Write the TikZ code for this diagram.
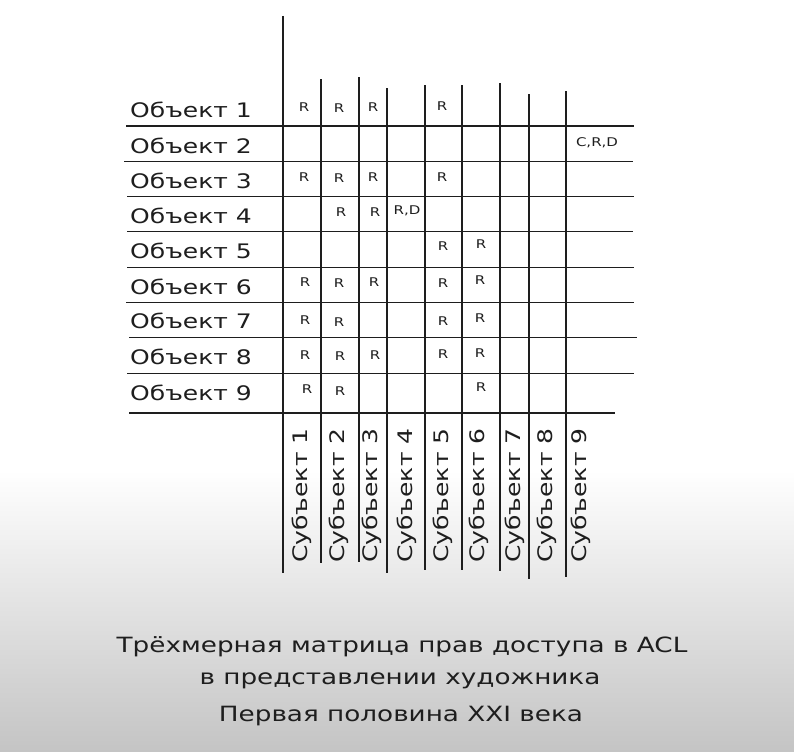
\documentclass[tikz,border=0pt]{standalone}
\usepackage{fontspec}
\newfontfamily\hand[FakeStretch=1.25]{DejaVu Sans}
\definecolor{ink}{HTML}{1E1E1E}
\definecolor{bgg}{HTML}{C4C4C4}
\begin{document}
\begin{tikzpicture}[x=1bp,y=-1bp,
  gl/.style={line width=1.3bp, draw=ink},
  lab/.style={font=\hand\fontsize{20bp}{24bp}\selectfont, text=ink, inner sep=0pt},
  sub/.style={lab, rotate=90, anchor=west},
  cell/.style={font=\hand\fontsize{12bp}{14bp}\selectfont, text=ink, inner sep=0pt},
  capt/.style={font=\hand\fontsize{21bp}{25bp}\selectfont, text=ink, inner sep=0pt}]
\fill[white] (0,0) rectangle (794,752);
\shade[top color=white, bottom color=bgg] (0,470) rectangle (794,752);
\useasboundingbox (0,0) rectangle (794,752);
% horizontal grid lines
\foreach \y/\a/\b in {126/126/634, 161.7/124/633, 196.7/127/634, 231.7/127/633,
  267.3/127/634, 302.7/126/634, 337.3/129/637, 373.3/127/634, 413/129/615}
  \draw[gl] (\a,\y) -- (\b,\y);
% vertical grid lines
\foreach \x/\t/\b in {283/16/573, 321/79/563, 359/77/562, 387/88/573, 425/85/570,
  462/85/570, 500/83/571, 529/94/579, 566/91/577}
  \draw[gl] (\x,\t) -- (\x,\b);
% object labels
\foreach \i/\y in {1/117, 2/153, 3/188, 4/223, 5/258, 6/294, 7/328, 8/364, 9/400}
  \node[lab, anchor=base west] (o\i) at (130,\y) {Объект \i};
% subject labels
\foreach \i/\x in {1/302, 2/339, 3/372, 4/407, 5/443, 6/479, 7/515, 8/547, 9/581}
  \node[sub] (s\i) at (\x,563) {Субъект \i};
% cells
\node[cell] (r1c1) at (304,107) {R};
\node[cell] (r1c2) at (339,108) {R};
\node[cell] (r1c3) at (373,107) {R};
\node[cell] (r1c5) at (442,106) {R};
\node[cell] (r2c9) at (597,143) {C,R,D};
\node[cell] (r3c1) at (304,177) {R};
\node[cell] (r3c2) at (339,178) {R};
\node[cell] (r3c3) at (373,177) {R};
\node[cell] (r3c5) at (442,177) {R};
\node[cell] (r4c2) at (341,212) {R};
\node[cell] (r4c3) at (375,212) {R};
\node[cell] (r4c4) at (407,211) {R,D};
\node[cell] (r5c5) at (443,246) {R};
\node[cell] (r5c6) at (481,244) {R};
\node[cell] (r6c1) at (305,282) {R};
\node[cell] (r6c2) at (339,283) {R};
\node[cell] (r6c3) at (374,282) {R};
\node[cell] (r6c5) at (443,283) {R};
\node[cell] (r6c6) at (480,280) {R};
\node[cell] (r7c1) at (305,320) {R};
\node[cell] (r7c2) at (339,322) {R};
\node[cell] (r7c5) at (443,321) {R};
\node[cell] (r7c6) at (480,318) {R};
\node[cell] (r8c1) at (305,355) {R};
\node[cell] (r8c2) at (340,356) {R};
\node[cell] (r8c3) at (375,355) {R};
\node[cell] (r8c5) at (443,354) {R};
\node[cell] (r8c6) at (480,353) {R};
\node[cell] (r9c1) at (307,389) {R};
\node[cell] (r9c2) at (340,391) {R};
\node[cell] (r9c6) at (481,387) {R};
% caption
\node[capt] (cap1) at (402,647) {Трёхмерная матрица прав доступа в ACL};
\node[capt] (cap2) at (400,681) {в представлении художника};
\node[capt] (cap3) at (401,716) {Первая половина XXI века};
\end{tikzpicture}
\end{document}
